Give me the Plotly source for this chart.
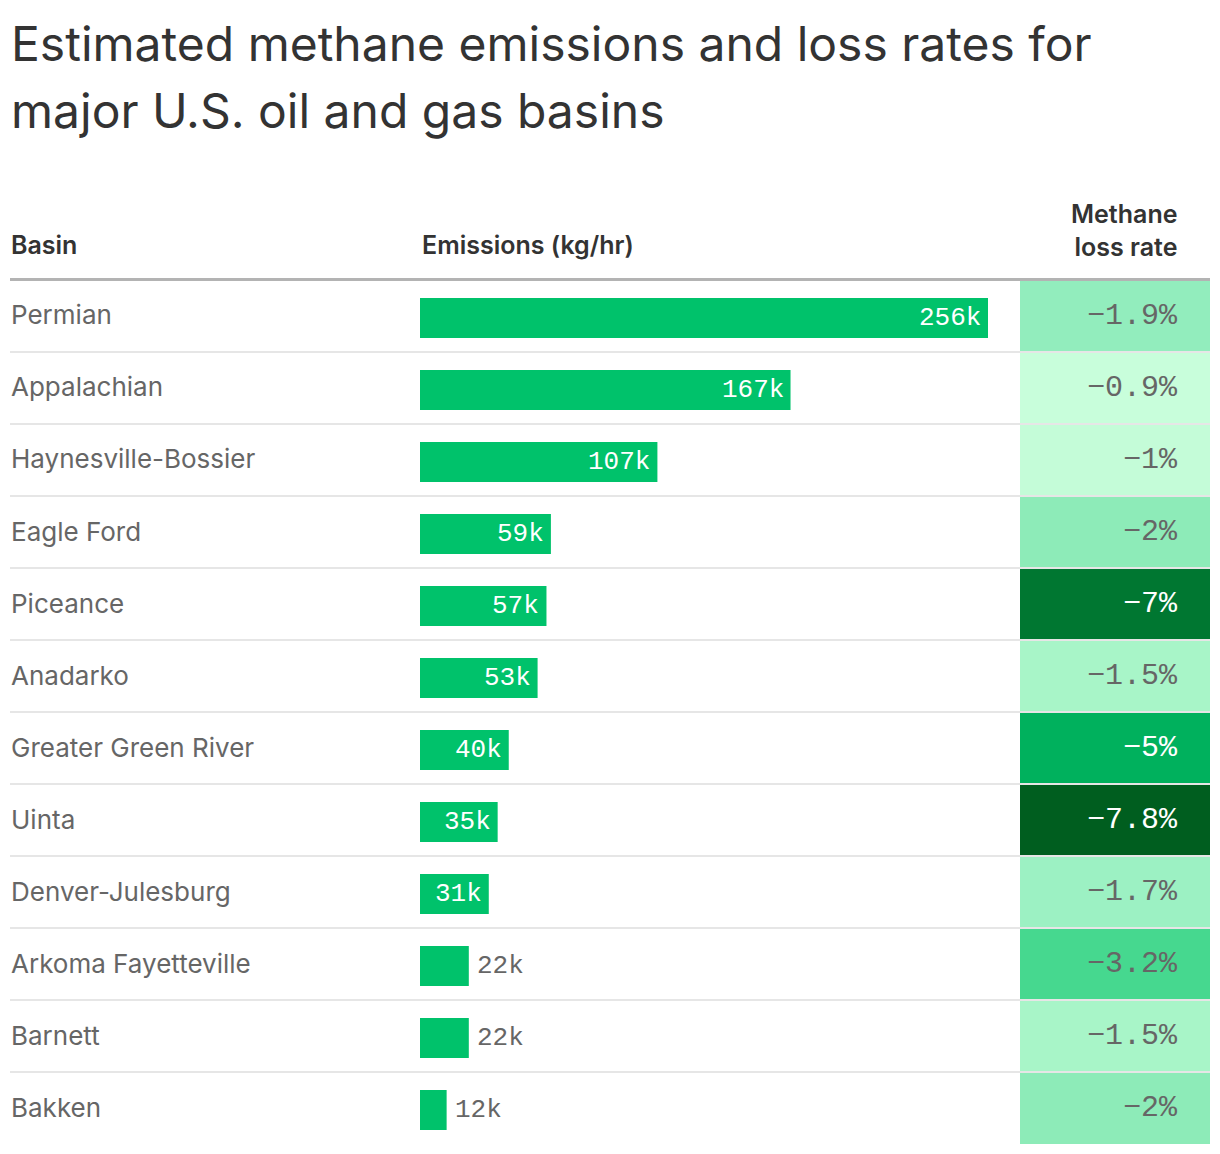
import plotly.graph_objects as go

basins = ["Permian", "Appalachian", "Haynesville-Bossier", "Eagle Ford", "Piceance",
          "Anadarko", "Greater Green River", "Uinta", "Denver-Julesburg",
          "Arkoma Fayetteville", "Barnett", "Bakken"]
emissions_k = [256, 167, 107, 59, 57, 53, 40, 35, 31, 22, 22, 12]
loss_rate = [-1.9, -0.9, -1, -2, -7, -1.5, -5, -7.8, -1.7, -3.2, -1.5, -2]
loss_colors = ["#92edbd", "#c8fedb", "#c4fcd8", "#8debb8", "#007731", "#a8f5c8",
               "#00b15d", "#005e1f", "#9cf1c3", "#46d88f", "#a8f5c8", "#8debb8"]
loss_text_colors = ["#666666", "#666666", "#666666", "#666666", "#ffffff", "#666666",
                    "#ffffff", "#ffffff", "#666666", "#666666", "#666666", "#666666"]
label_inside = [True] * 9 + [False] * 3

# page body has an 8px margin; work in page pixels and convert
OFF = 8
W, H = 1220 - OFF, 1154 - OFF
SANS = "Inter, 'Noto Sans', sans-serif"
MONO = "'Liberation Mono', 'DejaVu Sans Mono', monospace"

def py(px):
    return 1 - (px - OFF) / H

def pxx(px):
    return (px - OFF) / W

fig = go.Figure()

fig.add_trace(go.Bar(
    y=basins, x=emissions_k, orientation="h",
    marker=dict(color="#00c26b", line=dict(width=0)),
    width=40 / 72, offset=-0.25,
    xaxis="x", yaxis="y", hoverinfo="skip", showlegend=False,
))

fig.add_trace(go.Bar(
    y=basins, x=[1] * len(basins), orientation="h",
    marker=dict(color=loss_colors, line=dict(width=0)),
    width=1, xaxis="x2", yaxis="y", hoverinfo="skip", showlegend=False,
))

annotations = []
# Title
title_font = dict(family=SANS, size=48, color="#333333")
annotations.append(dict(text="Estimated methane emissions and loss rates for",
                        xref="paper", yref="paper", x=pxx(9), y=py(43),
                        xanchor="left", yanchor="middle", showarrow=False, font=title_font))
annotations.append(dict(text="major U.S. oil and gas basins",
                        xref="paper", yref="paper", x=pxx(9), y=py(110),
                        xanchor="left", yanchor="middle", showarrow=False, font=title_font))
# Headers
hdr_font = dict(family=SANS, size=25, color="#333333", weight=600)
annotations.append(dict(text="Basin", xref="paper", yref="paper", x=pxx(9), y=py(245),
                        xanchor="left", yanchor="middle", showarrow=False, font=hdr_font))
annotations.append(dict(text="Emissions (kg/hr)", xref="paper", yref="paper", x=pxx(420), y=py(245),
                        xanchor="left", yanchor="middle", showarrow=False, font=hdr_font))
annotations.append(dict(text="Methane<br>loss rate", xref="paper", yref="paper", x=pxx(1179), y=py(230),
                        xanchor="right", yanchor="middle", align="right", showarrow=False,
                        font=hdr_font))

for i, b in enumerate(basins):
    annotations.append(dict(text=b, xref="paper", yref="y", x=pxx(9), y=b, yshift=1,
                            xanchor="left", yanchor="middle", showarrow=False,
                            font=dict(family=SANS, size=26, color="#666666")))
    v = emissions_k[i]
    if label_inside[i]:
        annotations.append(dict(text=f"{v}k", xref="x", yref="y", x=v, y=b, xshift=-5, yshift=-2,
                                xanchor="right", yanchor="middle", showarrow=False,
                                font=dict(family=MONO, size=26, color="#ffffff")))
    else:
        annotations.append(dict(text=f"{v}k", xref="x", yref="y", x=v, y=b, xshift=6, yshift=-2,
                                xanchor="left", yanchor="middle", showarrow=False,
                                font=dict(family=MONO, size=26, color="#666666")))
    r = loss_rate[i]
    annotations.append(dict(text=f"\u2212{abs(r):g}%", xref="x2", yref="y", x=(1180 - 1020) / 190, y=b,
                            yshift=0, xanchor="right", yanchor="middle", showarrow=False,
                            font=dict(family=MONO, size=30, color=loss_text_colors[i])))

shapes = [dict(type="line", xref="paper", yref="paper", x0=pxx(10), x1=pxx(1210),
               y0=py(279.5), y1=py(279.5), line=dict(color="#b3b3b3", width=3), layer="above")]
for i in range(len(basins) - 1):
    shapes.append(dict(type="line", xref="paper", yref="y", x0=pxx(10), x1=pxx(1210),
                       y0=i + 0.5, y1=i + 0.5, line=dict(color="#e6e6e6", width=2), layer="above"))

fig.update_layout(
    width=W, height=H, margin=dict(l=0, r=0, t=0, b=0),
    paper_bgcolor="white", plot_bgcolor="white",
    barmode="overlay",
    xaxis=dict(domain=[pxx(420), pxx(988)], range=[0, 256], visible=False, fixedrange=True),
    xaxis2=dict(domain=[pxx(1020), pxx(1210)], range=[0, 1], visible=False, anchor="y", fixedrange=True),
    yaxis=dict(domain=[py(1144), py(280)], range=[11.5, -0.5], visible=False,
               type="category", categoryorder="array", categoryarray=basins, fixedrange=True),
    annotations=annotations, shapes=shapes, showlegend=False,
)

fig.write_html("out.html", config={"displayModeBar": False})
